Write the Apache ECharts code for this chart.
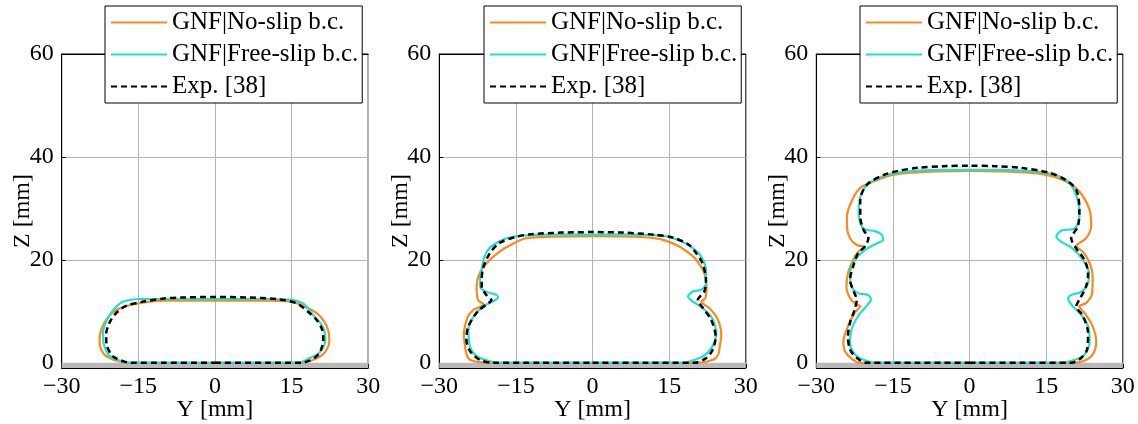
<!DOCTYPE html>
<html>
<head>
<meta charset="utf-8">
<script src="https://cdn.jsdelivr.net/npm/echarts@6/dist/echarts.min.js"></script>
<style>
html,body{margin:0;padding:0;background:#fff;}
#chart{width:1138px;height:424px;}
</style>
</head>
<body>
<div id="chart"></div>
<script>
// ---- data ----
const seriesNames = ['GNF|No-slip b.c.', 'GNF|Free-slip b.c.', 'Exp. [38]'];
const xTicks = [-30, -15, 0, 15, 30];
const yTicks = [0, 20, 40, 60];
const xRange = [-30, 30];
const yRange = [-1, 60];
const substrate = [-1, 0];
const xName = 'Y [mm]';
const yName = 'Z [mm]';

// Panel 1
const noSlip1 = [[0,0],[10,0],[16.6,0],[18.8,0.4],[21.1,1.6],[22.1,3.0],[22.4,4.5],[22.2,6.2],[21.4,8.0],[20.1,9.5],[18.5,10.5],[16.3,11.5],[14,12.0],[10,12.1],[0,12.1],[-10,12.1],[-14.7,11.6],[-17.5,11.0],[-19.6,10.1],[-21.2,8.5],[-22.2,6.6],[-22.6,4.4],[-22.3,2.6],[-21.5,1.5],[-20.3,0.8],[-19.2,0.4],[-17.3,0],[-10,0],[0,0]];
const freeSlip1 = [[0,0],[10,0],[16.6,0],[18.2,0.8],[19.6,1.4],[20.5,2.0],[21.3,3.2],[21.6,4.6],[21.4,6.3],[20.6,7.8],[19.2,9.3],[18.2,10.6],[17.2,11.6],[14.9,12.3],[10,12.4],[0,12.4],[-10,12.4],[-14.7,12.4],[-17.9,11.9],[-19.7,10.5],[-21.1,8.4],[-21.9,6.0],[-21.8,3.8],[-21.2,2.2],[-20.5,1.2],[-19.2,0.6],[-17.9,0.25],[-16.5,0],[-10,0],[0,0]];
const exp1 = [[0,0],[10,0],[17,0],[18.6,0.5],[19.8,1.2],[20.7,2.4],[21.2,4.5],[21.0,6.4],[20.1,8.1],[18.5,9.7],[15.9,11.6],[12,12.4],[6,12.7],[0,12.8],[-6,12.7],[-10,12.5],[-14,11.9],[-17.3,11.1],[-19.2,9.8],[-20.6,7.9],[-21.3,5.5],[-21.2,3.5],[-20.6,2.1],[-19.9,1.2],[-17.9,0.3],[-16.5,0],[-10,0],[0,0]];

// Panel 2
const noSlip2 = [[0,0],[10,0],[20.5,0],[23.6,0.6],[24.6,1.6],[24.9,3.2],[25.2,5.5],[24.9,7.4],[24.2,9.0],[22.9,10.6],[21.3,11.9],[22.1,12.6],[22.3,14.8],[21.9,17.4],[20.3,20.0],[19,21.2],[17,22.6],[15,23.5],[13.1,24.1],[8,24.5],[0,24.6],[-8,24.5],[-13,24.2],[-15.5,23.2],[-18.2,21.6],[-20.8,19.3],[-22.1,17.4],[-22.7,14.8],[-22.4,12.2],[-21.3,11.4],[-22.4,10.7],[-23.3,10.3],[-24.4,9.0],[-25.0,7.0],[-25.2,5.5],[-25,3.5],[-24.7,1.8],[-24,0.6],[-21.4,0.05],[-20,0],[-10,0],[0,0]];
const freeSlip2 = [[0,0],[10,0],[18.2,0],[19.1,0.3],[21.7,1.3],[23.5,3.2],[24.2,5.8],[23.9,7.5],[23.2,9.0],[21.3,10.8],[19.4,12.1],[18.7,12.9],[19.7,13.9],[21.3,14.2],[22.2,15.5],[22.2,18.1],[21.3,20.6],[20,22],[18.3,23.2],[15.5,24.3],[13.1,24.7],[8,24.9],[0,24.9],[-8,24.9],[-13.6,24.7],[-16.8,24.2],[-18.8,23.3],[-20.1,22.4],[-21.2,20.5],[-21.7,18.1],[-22,16.5],[-22,14.8],[-20.8,13.8],[-18.8,13.2],[-18.5,12.7],[-19.4,12.0],[-21.4,10.9],[-23.3,9.0],[-24.3,6.4],[-24,3.2],[-22.7,1.3],[-20.1,0.3],[-18.5,0],[-10,0],[0,0]];
const exp2 = [[0,0],[10,0],[19.9,0],[22.2,0.9],[23.5,2.5],[24.1,5.1],[23.2,8.4],[21.5,10.8],[20.6,12.2],[21.9,13.9],[22.2,16.1],[21.5,19.4],[20.3,21.3],[18.9,22.9],[15.8,24.3],[12,24.9],[6,25.3],[0,25.4],[-6,25.3],[-12,25.0],[-14.9,24.5],[-18.2,23.3],[-20.1,21.3],[-21.4,18.5],[-21.7,16.1],[-21.7,14.8],[-20.8,13.2],[-19.8,12.2],[-20.8,11.3],[-22.4,10.1],[-24.3,7.1],[-24.7,4.5],[-24,2.3],[-22.1,0.6],[-19.5,0],[-10,0],[0,0]];

// Panel 3
const noSlip3 = [[0,0],[10,0],[20.2,0],[22.2,0.3],[24.1,1.6],[24.8,4.2],[24.1,7.1],[22.8,9.3],[21.5,11.0],[22.8,11.6],[24.0,13.5],[24.1,16.8],[23.5,19.4],[22.2,21.6],[20.9,22.7],[22.8,24.2],[23.8,26.5],[23.5,29.7],[21.5,33.3],[18.9,35.2],[16,36.3],[12,36.9],[6,37.2],[0,37.3],[-6,37.2],[-12,36.9],[-15.5,36.4],[-18.4,35.4],[-21.4,34.0],[-23.0,31.6],[-24.0,28.4],[-24.0,26.4],[-23.4,24.2],[-22.1,22.9],[-20.5,22.5],[-21.8,21.6],[-22.8,20.0],[-23.8,17.4],[-24.1,14.8],[-23.4,12.6],[-22.1,11.3],[-21.4,11.0],[-22.5,9.7],[-23.8,7.1],[-24.7,4.2],[-24.4,2.3],[-23.1,0.8],[-21.4,0],[-10,0],[0,0]];
const freeSlip3 = [[0,0],[10,0],[18.0,0],[20.6,0.6],[22.5,1.6],[23.5,4.2],[23.2,7.1],[21.9,9.3],[20.2,11.0],[19.3,12.5],[19.9,13.2],[21.9,13.8],[23.2,15.5],[23.4,17.4],[22.2,20.0],[20.2,22.2],[18.0,23.5],[17.0,24.5],[18.0,25.7],[20.6,26.1],[21.5,28.4],[21.2,31.6],[19.6,34.9],[16.9,36.5],[12.4,37.2],[6,37.5],[0,37.5],[-6,37.5],[-12,37.2],[-16.2,36.5],[-19.5,35.0],[-21.1,33.0],[-21.7,29.8],[-21.4,27.2],[-20.5,25.9],[-18.5,25.6],[-17.2,24.9],[-16.9,23.9],[-18.2,23.2],[-20.5,21.9],[-22.4,20.0],[-23.4,17.4],[-23.1,14.8],[-21.8,13.5],[-19.9,13.2],[-19.3,12.3],[-20.2,11.0],[-21.8,9.1],[-23.1,6.5],[-23.4,3.9],[-22.4,1.6],[-20.5,0.5],[-18.2,0],[-10,0],[0,0]];
const exp3 = [[0,0],[10,0],[19.9,0],[21.9,1.0],[23.0,2.6],[23.2,5.8],[22.2,9.1],[20.9,11.0],[21.5,12.3],[22.8,14.8],[23.2,17.4],[22.5,20.0],[20.9,22.2],[19.9,24.2],[21.2,26.5],[21.5,29.7],[20.9,33.6],[18.9,35.5],[15.7,36.9],[10,37.9],[5,38.2],[0,38.3],[-5,38.2],[-10,37.9],[-14,37.3],[-16.8,36.5],[-20.1,34.6],[-21.4,31.6],[-21.4,28.4],[-20.8,25.9],[-19.8,24.2],[-20.5,22.6],[-21.8,21.3],[-22.8,18.7],[-23.4,16.1],[-22.8,14.2],[-22.1,12.2],[-22.5,10.3],[-23.4,7.8],[-23.8,5.2],[-23.4,2.6],[-22.1,1.0],[-20.2,0],[-10,0],[0,0]];

const panels = [
  [noSlip1, freeSlip1, exp1],
  [noSlip2, freeSlip2, exp2],
  [noSlip3, freeSlip3, exp3]
];

// ---- styling / layout ----
const FONT = "'Liberation Serif', 'Times New Roman', serif";
const colors = ['#fb8a1c', '#20e0d2', '#000000'];
const lineStyles = [
  {color: colors[0], width: 2.2, type: 'solid'},
  {color: colors[1], width: 2.2, type: 'solid'},
  {color: colors[2], width: 2.5, type: [6, 4]}
];
const gridLefts = [61.7, 439.3, 816.3];
const gridWidth = 306.5;
const legendLefts = [105, 484, 860];

const chart = echarts.init(document.getElementById('chart'), null, {renderer: 'canvas'});

const grids = [], xAxes = [], yAxes = [], series = [], legends = [];
panels.forEach((p, i) => {
  grids.push({left: gridLefts[i], width: gridWidth, top: 54, bottom: 56,
    outerBoundsMode: 'none', containLabel: false,
    show: true, borderColor: '#000', borderWidth: 1, backgroundColor: 'transparent'});
  xAxes.push({
    type: 'value', gridIndex: i, min: xRange[0], max: xRange[1], interval: 15,
    name: xName, nameLocation: 'middle', nameGap: 30, nameMoveOverlap: false,
    nameTextStyle: {fontFamily: FONT, fontSize: 24, color: '#000'},
    axisLine: {show: true, onZero: false, lineStyle: {color: '#000', width: 1}},
    axisTick: {show: true, inside: true, length: 4, lineStyle: {color: '#000'}},
    axisLabel: {fontFamily: FONT, fontSize: 24, color: '#000', margin: 7,
      formatter: v => (v < 0 ? '\u2212' + Math.abs(v) : String(v))},
    splitLine: {show: true, lineStyle: {color: '#b4b4b4', width: 1}}
  });
  // overlay axis line on top of the substrate band
  xAxes.push({
    type: 'value', gridIndex: i, min: xRange[0], max: xRange[1], interval: 15, z: 10,
    axisLine: {show: true, onZero: false, lineStyle: {color: '#000', width: 1}},
    axisTick: {show: false}, axisLabel: {show: false}, splitLine: {show: false}
  });
  yAxes.push({
    type: 'value', gridIndex: i, min: yRange[0], max: yRange[1],
    name: yName, nameLocation: 'middle', nameGap: 27, nameMoveOverlap: false,
    nameTextStyle: {fontFamily: FONT, fontSize: 24, color: '#000'},
    axisLine: {show: true, onZero: false, lineStyle: {color: '#000', width: 1}},
    axisTick: {show: true, inside: true, length: 4, customValues: yTicks, lineStyle: {color: '#000'}},
    axisLabel: {fontFamily: FONT, fontSize: 24, color: '#000', margin: 8, customValues: yTicks},
    splitLine: {show: true, lineStyle: {color: '#b4b4b4', width: 1}}
  });
  // substrate band
  series.push({
    type: 'line', xAxisIndex: 2 * i, yAxisIndex: i, data: [], silent: true, z: 1,
    markArea: {silent: true, itemStyle: {color: '#b9b9b9'},
      data: [[{coord: [xRange[0], substrate[0]]}, {coord: [xRange[1], substrate[1]]}]]}
  });
  p.forEach((d, k) => {
    series.push({
      name: seriesNames[k], type: 'line', xAxisIndex: 2 * i, yAxisIndex: i,
      data: d, symbol: 'none', showSymbol: false, smooth: 0.3, z: 3 + k,
      lineStyle: lineStyles[k], itemStyle: {color: colors[k]}, animation: false
    });
  });
  legends.push({
    data: seriesNames, orient: 'vertical', left: legendLefts[i], top: 6,
    itemWidth: 56, itemHeight: 14, itemGap: 7, padding: [4, 4, 4, 5],
    backgroundColor: '#fff', borderColor: '#000', borderWidth: 1, borderRadius: 0,
    selectedMode: false, z: 20,
    itemStyle: {color: 'transparent', borderColor: 'transparent', borderWidth: 0, opacity: 0},
    textStyle: {fontFamily: FONT, fontSize: 25, color: '#000'}
  });
});

chart.setOption({
  animation: false,
  backgroundColor: '#fff',
  grid: grids, xAxis: xAxes, yAxis: yAxes, series: series, legend: legends
});
</script>
</body>
</html>
